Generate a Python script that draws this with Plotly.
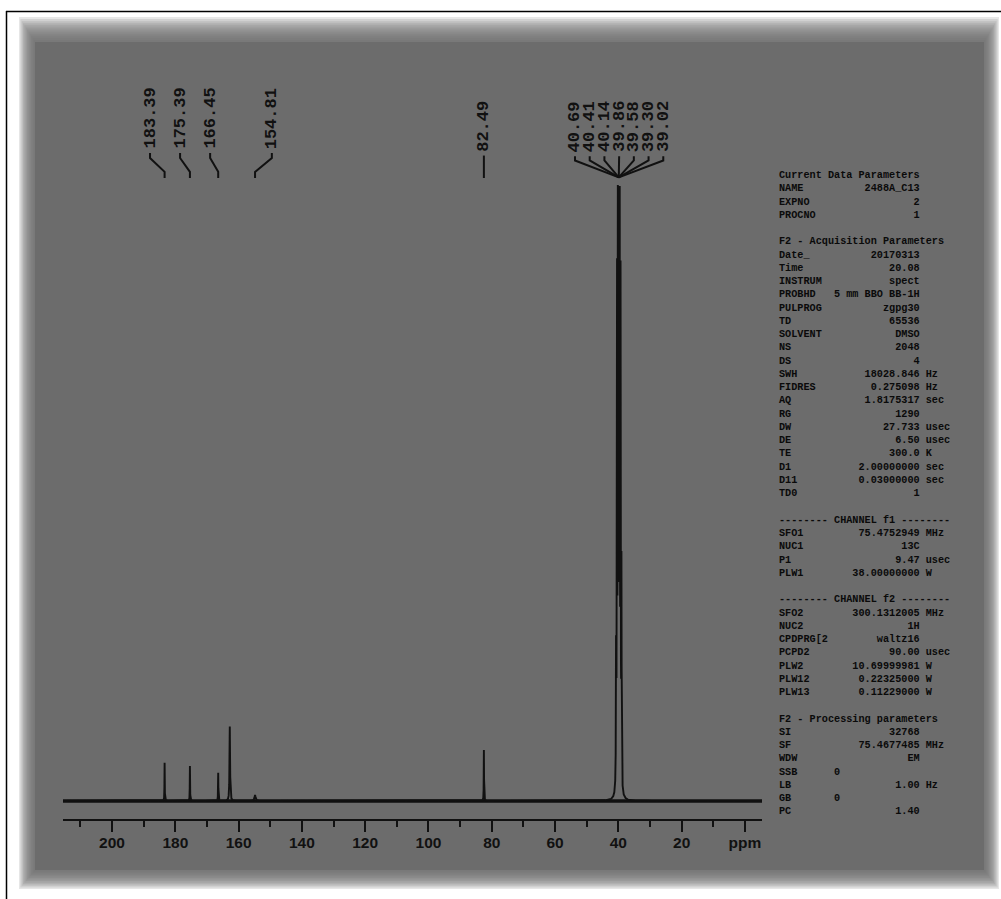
import numpy as np
import plotly.graph_objects as go

# ---------------------------------------------------------------------------
# 13C NMR spectrum (DMSO-d6), peak table: position (ppm), relative height, half width
# ---------------------------------------------------------------------------
peak_ppm = [183.39, 175.39, 166.45, 162.79, 154.81, 82.49,
            40.69, 40.41, 40.14, 39.86, 39.58, 39.30, 39.02]
peak_height = [6.2, 5.7, 4.6, 12.1, 1.0, 8.3,
               35.0, 80.0, 100.0, 100.0, 100.0, 80.0, 35.0]
peak_hwhm = [0.05, 0.05, 0.05, 0.10, 0.20, 0.05,
             0.06, 0.06, 0.06, 0.06, 0.06, 0.06, 0.06]

# peak picking labels and where each label sits along the ppm axis
label_text = ["183.39", "175.39", "166.45", "154.81", "82.49",
              "40.69", "40.41", "40.14", "39.86", "39.58", "39.30", "39.02"]
label_pos = [188.0, 178.5, 169.0, 149.5, 82.49,
             53.7, 49.05, 44.4, 39.75, 35.1, 30.45, 25.8]
label_base = [105.7, 105.7, 105.7, 105.7, 105.3,
              105.2, 105.2, 105.2, 105.2, 105.2, 105.2, 105.2]

# axis ticks
major_ticks = [200, 180, 160, 140, 120, 100, 80, 60, 40, 20, 0]
major_text = ["200", "180", "160", "140", "120", "100", "80", "60", "40", "20", "ppm"]
minor_ticks = [210, 190, 170, 150, 130, 110, 90, 70, 50, 30, 10]

# acquisition / processing parameter listing
current_params = [("NAME", "2488A_C13", ""), ("EXPNO", "2", ""), ("PROCNO", "1", "")]
acq_params = [("Date_", "20170313", ""), ("Time", "20.08", ""),
              ("INSTRUM", "spect", ""), ("PROBHD", "5 mm BBO BB-1H", ""),
              ("PULPROG", "zgpg30", ""), ("TD", "65536", ""),
              ("SOLVENT", "DMSO", ""), ("NS", "2048", ""), ("DS", "4", ""),
              ("SWH", "18028.846", "Hz"), ("FIDRES", "0.275098", "Hz"),
              ("AQ", "1.8175317", "sec"), ("RG", "1290", ""),
              ("DW", "27.733", "usec"), ("DE", "6.50", "usec"),
              ("TE", "300.0", "K"), ("D1", "2.00000000", "sec"),
              ("D11", "0.03000000", "sec"), ("TD0", "1", "")]
f1_params = [("SFO1", "75.4752949", "MHz"), ("NUC1", "13C", ""),
             ("P1", "9.47", "usec"), ("PLW1", "38.00000000", "W")]
f2_params = [("SFO2", "300.1312005", "MHz"), ("NUC2", "1H", ""),
             ("CPDPRG[2", "waltz16", ""), ("PCPD2", "90.00", "usec"),
             ("PLW2", "10.69999981", "W"), ("PLW12", "0.22325000", "W"),
             ("PLW13", "0.11229000", "W")]
proc_params = [("SI", "32768", ""), ("SF", "75.4677485", "MHz"),
               ("WDW", "EM", ""), ("SSB", "0", ""), ("LB", "1.00", "Hz"),
               ("GB", "0", ""), ("PC", "1.40", "")]

# ---------------------------------------------------------------------------
# build the spectrum trace as a sum of Lorentzian lines on a ppm grid
# ---------------------------------------------------------------------------
PPM_LEFT, PPM_RIGHT = 215.5, -5.4
TOP = 100.0  # vertical plot ceiling (solvent line is clipped here)

grid = [np.arange(PPM_RIGHT, PPM_LEFT, 0.25)]
for p in peak_ppm:
    grid.append(np.arange(p - 1.5, p + 1.5, 0.005))
ppm = np.unique(np.concatenate(grid))[::-1]
inten = np.zeros_like(ppm)
for p, h, w in zip(peak_ppm, peak_height, peak_hwhm):
    inten += h * w ** 2 / ((ppm - p) ** 2 + w ** 2)
inten = np.minimum(inten, TOP)

W, H = 1001, 899


def fx(px):
    return px / W


def fy(py):
    return 1 - py / H


fig = go.Figure()

# baseline noise band
fig.add_trace(go.Scatter(x=[PPM_LEFT, PPM_RIGHT], y=[0, 0], mode="lines",
                         line=dict(color="#111111", width=3.4),
                         hoverinfo="skip"))
fig.add_trace(go.Scatter(x=ppm, y=inten, mode="lines",
                         line=dict(color="#111111", width=1.9),
                         hoverinfo="skip"))

# label connectors: vertical stub, slanted leg, vertical drop to the peak
label_peak = [float(t) for t in label_text]
cx, cy = [], []
for lp, pk, lb in zip(label_pos, label_peak, label_base):
    top = lb - 0.35
    if lp == pk:
        cx += [lp, pk, None]
        cy += [top, 101.3, None]
    elif 39 < pk < 41:
        cx += [lp, lp, 39.86, None]
        cy += [top, top - 0.7, 101.4, None]
    else:
        cx += [lp, lp, pk, pk, None]
        cy += [top, top - 0.8, 102.3, 101.3, None]
fig.add_trace(go.Scatter(x=cx, y=cy, mode="lines",
                         line=dict(color="#111111", width=2),
                         hoverinfo="skip"))

annotations = []
for t, lp, lb in zip(label_text, label_pos, label_base):
    annotations.append(dict(x=lp, y=lb, xref="x", yref="y", text=t,
                            textangle=-90, showarrow=False,
                            xanchor="center", yanchor="bottom",
                            font=dict(family="Liberation Mono, DejaVu Sans Mono, monospace",
                                      size=17, color="#111111", weight="bold")))

# parameter listing, fixed-width columns
NB = "\u00a0"


def row(name, value, unit):
    if name in ("SSB", "GB"):
        s = name.ljust(9) + value
    else:
        s = name.ljust(23 - len(value)) + value
        if unit:
            s += " " + unit
    return s


lines = ["Current Data Parameters"]
lines += [row(*r) for r in current_params]
lines += ["", "F2 - Acquisition Parameters"]
lines += [row(*r) for r in acq_params]
lines += ["", "-------- CHANNEL f1 --------"]
lines += [row(*r) for r in f1_params]
lines += ["", "-------- CHANNEL f2 --------"]
lines += [row(*r) for r in f2_params]
lines += ["", "F2 - Processing parameters"]
lines += [row(*r) for r in proc_params]
block = "<br>".join(l.replace(" ", NB) if l else NB for l in lines)

annotations.append(dict(x=fx(777), y=fy(168), xref="paper", yref="paper",
                        text=block, showarrow=False, align="left",
                        xanchor="left", yanchor="top",
                        font=dict(family="Liberation Mono, Courier New, monospace",
                                  size=10.2, color="#0a0a0a", weight="bold")))

# gray panel with soft edges, plus the frame lines
GRAY = "rgb(108,108,108)"
shapes = []
inner = (35, 42, 984, 870)
outer = (19, 17, 999, 889)
N = 12
for k in range(N, 0, -1):
    t = k / N
    x0 = inner[0] - (inner[0] - outer[0]) * t
    y0 = inner[1] - (inner[1] - outer[1]) * t
    x1 = inner[2] + (outer[2] - inner[2]) * t
    y1 = inner[3] + (outer[3] - inner[3]) * t
    shapes.append(dict(type="rect", xref="paper", yref="paper",
                       x0=fx(x0), x1=fx(x1), y0=fy(y1), y1=fy(y0),
                       fillcolor=GRAY, opacity=0.17, line=dict(width=0),
                       layer="below"))
shapes.append(dict(type="rect", xref="paper", yref="paper",
                   x0=fx(inner[0]), x1=fx(inner[2]), y0=fy(inner[3]), y1=fy(inner[1]),
                   fillcolor=GRAY, line=dict(width=0), layer="below"))
shapes.append(dict(type="line", xref="paper", yref="paper",
                   x0=fx(6), x1=1, y0=fy(11.5), y1=fy(11.5),
                   line=dict(color="black", width=1.5)))
shapes.append(dict(type="line", xref="paper", yref="paper",
                   x0=fx(6.5), x1=fx(6.5), y0=0, y1=fy(11),
                   line=dict(color="black", width=1.5)))

BASE_PX, AXIS_PX, PX_PER_UNIT = 801, 819, 6.15
y_min = -(AXIS_PX - BASE_PX) / PX_PER_UNIT
y_max = BASE_PX / PX_PER_UNIT

fig.update_layout(
    width=W, height=H, autosize=False,
    margin=dict(l=0, r=0, t=0, b=0),
    paper_bgcolor="white", plot_bgcolor="rgba(0,0,0,0)",
    showlegend=False, hovermode=False,
    annotations=annotations, shapes=shapes,
    xaxis=dict(domain=[fx(63), fx(762)], range=[PPM_LEFT, PPM_RIGHT],
               showgrid=False, zeroline=False,
               showline=True, linecolor="#111111", linewidth=2,
               ticks="outside", ticklen=11, tickwidth=2, tickcolor="#111111",
               tickmode="array", tickvals=major_ticks, ticktext=major_text,
               ticklabelstandoff=-3,
               tickfont=dict(family="Liberation Sans Narrow, Liberation Sans, Arial, sans-serif",
                             size=15.5, color="#111111", weight="bold"),
               minor=dict(tickmode="array", tickvals=minor_ticks, ticks="outside",
                          ticklen=6, tickwidth=2, tickcolor="#111111")),
    yaxis=dict(domain=[(H - AXIS_PX) / H, 1], range=[y_min, y_max],
               visible=False, showgrid=False, zeroline=False),
)

fig.write_html("out.html")
